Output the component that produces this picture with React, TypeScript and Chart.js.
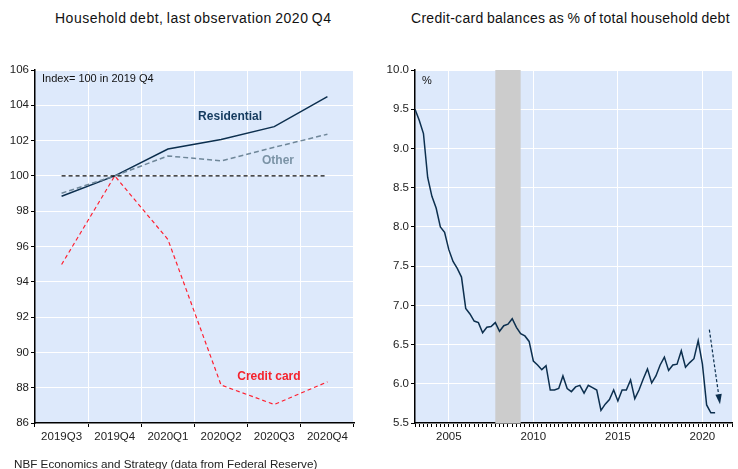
import React, { useEffect, useRef } from "react";
import { Chart, registerables } from "chart.js";

Chart.register(...registerables);

const FONT = '"Liberation Sans", Arial, sans-serif';

// ---- Left chart data ----
const quarters = ["2019Q3", "2019Q4", "2020Q1", "2020Q2", "2020Q3", "2020Q4"];
const residential = [98.85, 100, 101.52, 102.06, 102.79, 104.49];
const other = [99.02, 100, 101.13, 100.85, 101.62, 102.36];
const creditCard = [94.98, 100, 96.4, 88.15, 87.05, 88.33];
const baseline = [100, 100, 100, 100, 100, 100];
const leftYTicks = { min: 86, max: 106, step: 2 };

// label annotations (data coordinates)
const leftNotes = [
  { text: "Residential", x: 3.17, y: 103.36, color: "#143a5e" },
  { text: "Other", x: 4.07, y: 100.85, color: "#7b93a6" },
  { text: "Credit card", x: 3.9, y: 88.63, color: "#f5222d" },
];

// ---- Right chart data ----
const startYear = 2003;
const ccShare = [
  9.5, 9.36, 9.19, 8.63,
  8.39, 8.24, 8.0, 7.93,
  7.71, 7.56, 7.47, 7.36,
  6.96, 6.89, 6.8, 6.78,
  6.65, 6.72, 6.73, 6.78,
  6.67, 6.74, 6.76, 6.83,
  6.72, 6.64, 6.61, 6.54,
  6.29, 6.24, 6.18, 6.23,
  5.92, 5.92, 5.94, 6.1,
  5.94, 5.9, 5.96, 5.98,
  5.88, 5.98, 5.95, 5.92,
  5.66, 5.74, 5.8, 5.92,
  5.78, 5.92, 5.92, 6.05,
  5.81, 5.92, 6.06, 6.19,
  6.01, 6.1, 6.24, 6.34,
  6.17, 6.24, 6.25, 6.42,
  6.21, 6.27, 6.32, 6.55,
  6.25, 5.73, 5.63, 5.63,
];
const recession = [2007.75, 2009.25];
const rightX = { min: 2003, max: 2021.75, step: 0.25 };
const rightY = { min: 5.5, max: 10, step: 0.5 };
const arrowFrom = { x: 2020.41, y: 6.69 };
const arrowTo = { x: 2021.04, y: 5.74 };

const BG = "#dde9fb";
const NAVY = "#0c2f4e";

const bgPlugin = {
  id: "bgfill",
  beforeDraw(chart: any) {
    const { ctx, chartArea: a } = chart;
    ctx.save();
    ctx.fillStyle = BG;
    ctx.fillRect(a.left, a.top, a.right - a.left, a.bottom - a.top);
    ctx.restore();
  },
};

export default function App() {
  const leftRef = useRef<HTMLCanvasElement>(null);
  const rightRef = useRef<HTMLCanvasElement>(null);

  useEffect(() => {
    const tickFont = { family: FONT, size: 11.5 };

    const leftLabels = {
      id: "leftLabels",
      afterDatasetsDraw(chart: any) {
        const { ctx, scales, chartArea } = chart;
        ctx.save();
        ctx.textBaseline = "middle";
        ctx.font = `11px ${FONT}`;
        ctx.fillStyle = "#111";
        ctx.textAlign = "left";
        ctx.fillText("Index= 100 in 2019 Q4", chartArea.left + 7, chartArea.top + 9);
        ctx.textAlign = "center";
        ctx.font = `bold 12px ${FONT}`;
        for (const n of leftNotes) {
          ctx.fillStyle = n.color;
          ctx.fillText(n.text, scales.x.getPixelForValue(n.x), scales.y.getPixelForValue(n.y));
        }
        ctx.restore();
      },
    };

    const left = new Chart(leftRef.current!, {
      type: "line",
      data: {
        labels: quarters,
        datasets: [
          { label: "Base", data: baseline, borderColor: "#111", borderDash: [4, 3], borderWidth: 1.2 },
          { label: "Credit card", data: creditCard, borderColor: "#ff2030", borderDash: [4, 3], borderWidth: 1.2 },
          { label: "Other", data: other, borderColor: "#6f8799", borderDash: [5, 3], borderWidth: 1.5 },
          { label: "Residential", data: residential, borderColor: NAVY, borderWidth: 1.5 },
        ],
      },
      options: {
        animation: false,
        responsive: false,
        layout: { padding: { top: 10, right: 16, bottom: 16, left: 0 } },
        elements: { point: { radius: 0 }, line: { tension: 0 } },
        plugins: { legend: { display: false }, tooltip: { enabled: false } },
        scales: {
          x: {
            type: "category",
            offset: true,
            grid: { offset: true, color: "#fff", lineWidth: 1, tickColor: "#000", tickWidth: 1, tickLength: 4 },
            border: { color: "#000", width: 1.5 },
            ticks: { color: "#222", font: tickFont, padding: 3, maxRotation: 0, autoSkip: false },
            afterFit: (s: any) => { s.height = 30; },
          },
          y: {
            min: leftYTicks.min,
            max: leftYTicks.max,
            ticks: { stepSize: leftYTicks.step, color: "#222", font: tickFont, padding: 2 },
            grid: { color: "#fff", lineWidth: 1, tickColor: "#000", tickWidth: 1, tickLength: 4 },
            border: { color: "#000", width: 1.5 },
            afterFit: (s: any) => { s.width = 35; },
          },
        },
      },
      plugins: [bgPlugin, leftLabels],
    } as any);

    const rightExtras = {
      id: "rightExtras",
      beforeDatasetsDraw(chart: any) {
        const { ctx, scales, chartArea } = chart;
        const x0 = scales.x.getPixelForValue(recession[0]);
        const x1 = scales.x.getPixelForValue(recession[1]);
        ctx.save();
        ctx.fillStyle = "#cccccc";
        ctx.fillRect(x0, chartArea.top, x1 - x0, chartArea.bottom - chartArea.top);
        ctx.restore();
      },
      afterDatasetsDraw(chart: any) {
        const { ctx, scales, chartArea } = chart;
        ctx.save();
        ctx.font = `11px ${FONT}`;
        ctx.fillStyle = "#111";
        ctx.textBaseline = "middle";
        ctx.textAlign = "left";
        ctx.fillText("%", chartArea.left + 7, chartArea.top + 11);
        // arrow
        const ax = scales.x.getPixelForValue(arrowFrom.x);
        const ay = scales.y.getPixelForValue(arrowFrom.y);
        const bx = scales.x.getPixelForValue(arrowTo.x);
        const by = scales.y.getPixelForValue(arrowTo.y);
        const ang = Math.atan2(by - ay, bx - ax);
        const headLen = 10;
        const headW = 3.2;
        const hx = bx - headLen * Math.cos(ang);
        const hy = by - headLen * Math.sin(ang);
        ctx.strokeStyle = NAVY;
        ctx.lineWidth = 1.2;
        ctx.setLineDash([3, 2]);
        ctx.beginPath();
        ctx.moveTo(ax, ay);
        ctx.lineTo(hx, hy);
        ctx.stroke();
        ctx.setLineDash([]);
        ctx.fillStyle = NAVY;
        ctx.beginPath();
        ctx.moveTo(bx, by);
        ctx.lineTo(hx + headW * Math.sin(ang), hy - headW * Math.cos(ang));
        ctx.lineTo(hx - headW * Math.sin(ang), hy + headW * Math.cos(ang));
        ctx.closePath();
        ctx.fill();
        ctx.restore();
      },
    };

    const isYearMark = (v: number) => Math.abs(v - Math.round(v)) < 1e-6 && Math.round(v) % 5 === 0;
    const points = ccShare.map((v, i) => ({ x: startYear + i / 4, y: v }));

    const right = new Chart(rightRef.current!, {
      type: "line",
      data: {
        datasets: [{ label: "Credit card share", data: points, borderColor: NAVY, borderWidth: 1.5 }],
      },
      options: {
        animation: false,
        responsive: false,
        layout: { padding: { top: 10, right: 6, bottom: 16, left: 0 } },
        elements: { point: { radius: 0 }, line: { tension: 0 } },
        plugins: { legend: { display: false }, tooltip: { enabled: false } },
        scales: {
          x: {
            type: "linear",
            min: rightX.min,
            max: rightX.max,
            ticks: {
              stepSize: rightX.step,
              autoSkip: false,
              maxRotation: 0,
              color: "#222",
              font: tickFont,
              padding: 3,
              callback: (v: any) => (isYearMark(Number(v)) ? String(Math.round(Number(v))) : ""),
            },
            grid: {
              color: (c: any) => (c.tick && isYearMark(c.tick.value) ? "#fff" : "rgba(0,0,0,0)"),
              lineWidth: 1,
              tickColor: "#000",
              tickWidth: 1,
              tickLength: 4,
            },
            border: { color: "#000", width: 1.5 },
            afterFit: (s: any) => { s.height = 30; },
          },
          y: {
            min: rightY.min,
            max: rightY.max,
            ticks: { stepSize: rightY.step, color: "#222", font: tickFont, padding: 2, callback: (v: any) => Number(v).toFixed(1) },
            grid: { color: "#fff", lineWidth: 1, tickColor: "#000", tickWidth: 1, tickLength: 4 },
            border: { color: "#000", width: 1.5 },
            afterFit: (s: any) => { s.width = 45; },
          },
        },
      },
      plugins: [bgPlugin, rightExtras],
    } as any);

    return () => {
      left.destroy();
      right.destroy();
    };
  }, []);

  const titleStyle: React.CSSProperties = {
    position: "absolute",
    top: 11,
    fontFamily: FONT,
    fontSize: 14,
    lineHeight: "14px",
    letterSpacing: "0.5px",
    wordSpacing: "-1px",
    color: "#111",
    whiteSpace: "nowrap",
  };

  return (
    <div style={{ position: "absolute", left: 0, top: 0, width: 738, height: 469, background: "#fff", overflow: "hidden" }}>
      <div style={{ ...titleStyle, left: 55 }}>Household debt, last observation 2020 Q4</div>
      <div style={{ ...titleStyle, left: 411, letterSpacing: "0.3px", wordSpacing: "-0.8px" }}>
        Credit-card balances as % of total household debt
      </div>
      <canvas ref={leftRef} width={370} height={409} style={{ position: "absolute", left: 0, top: 60 }} />
      <canvas ref={rightRef} width={368} height={409} style={{ position: "absolute", left: 370, top: 60 }} />
      <div
        style={{
          position: "absolute",
          left: 14,
          top: 458,
          fontFamily: FONT,
          fontSize: 11.7,
          lineHeight: "12px",
          color: "#222",
          whiteSpace: "nowrap",
        }}
      >
        NBF Economics and Strategy (data from Federal Reserve)
      </div>
    </div>
  );
}
